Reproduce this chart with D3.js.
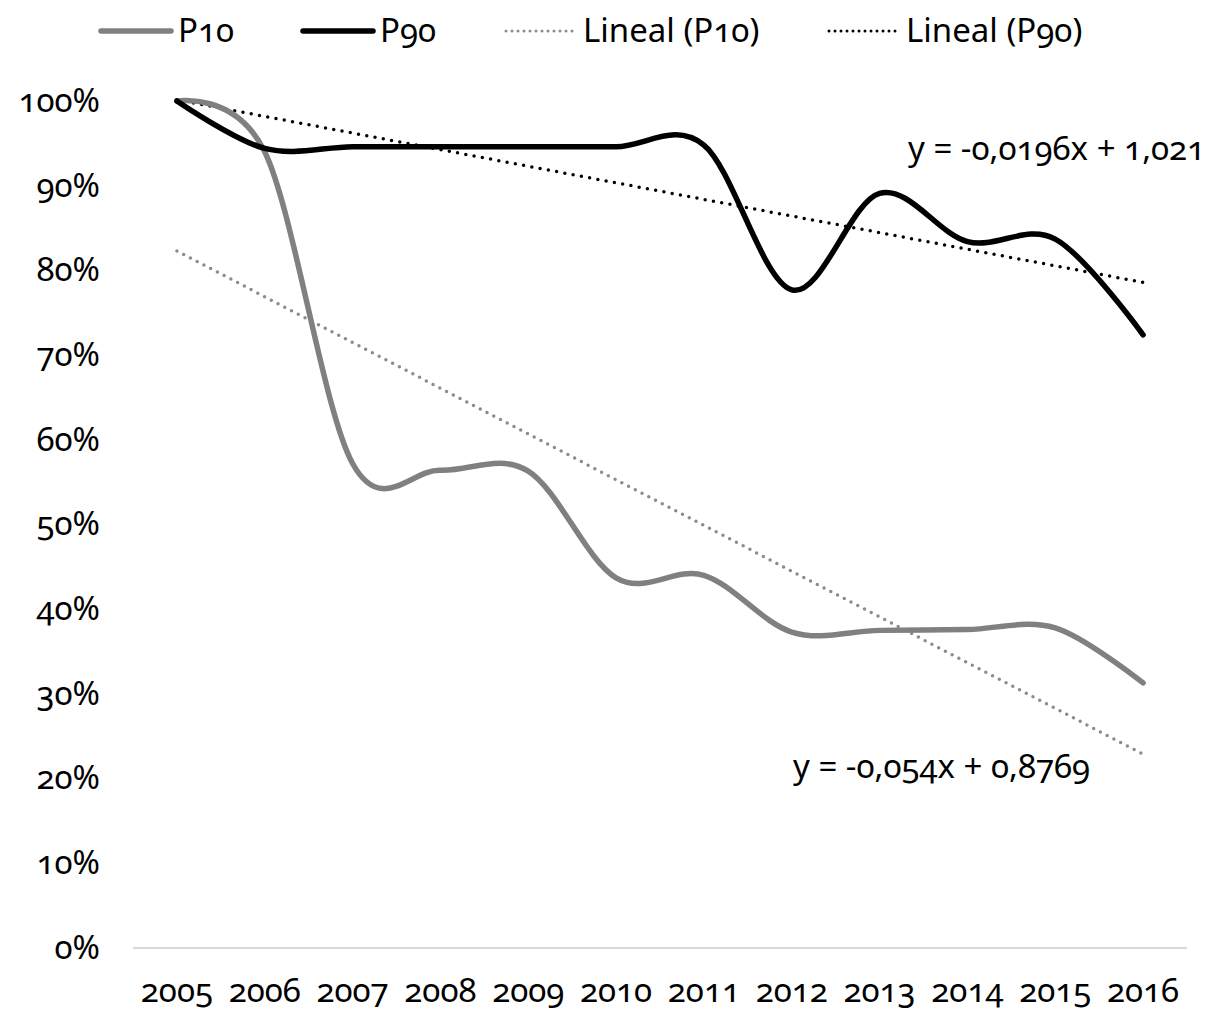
<!DOCTYPE html>
<html>
<head>
<meta charset="utf-8">
<script src="https://cdn.jsdelivr.net/npm/d3@7"></script>
<style>
  body { margin: 0; background: #fff; }
  svg text { font-family: "Noto Sans", "Open Sans", sans-serif; font-variant-numeric: oldstyle-nums; font-feature-settings: "onum"; fill: #000; }
</style>
</head>
<body>
<div id="chart"></div>
<script>
// ---------- data ----------
var years = ["2005","2006","2007","2008","2009","2010","2011","2012","2013","2014","2015","2016"];
var p10 = [1.00, 0.94, 0.572, 0.564, 0.563, 0.437, 0.44, 0.373, 0.375, 0.376, 0.378, 0.313];
var p90 = [1.00, 0.944, 0.946, 0.946, 0.946, 0.946, 0.948, 0.777, 0.891, 0.834, 0.837, 0.724];
var yTicks = [0, 0.1, 0.2, 0.3, 0.4, 0.5, 0.6, 0.7, 0.8, 0.9, 1.0];
// linear trend coefficients (x = 1..12)
var trendP10 = [-0.054, 0.8769];
var trendP90 = [-0.0196, 1.021];
var eqLabels = ["y = -0,054x + 0,8769", "y = -0,0196x + 1,021"];
var legendNames = ["P10", "P90", "Lineal (P10)", "Lineal (P90)"];

var width = 1212, height = 1014;
var gray = "#808080", grayDot = "#8c8c8c";
var fs = "33px";

var svg = d3.select("#chart").append("svg")
    .attr("width", width)
    .attr("height", height);

var x = d3.scaleBand().domain(years).range([133, 1187]);
var xc = function(i) { return x(years[i]) + x.bandwidth() / 2; };
var y = d3.scaleLinear().domain([0, 1]).range([948, 101]);

// baseline
svg.append("line")
    .attr("x1", 133).attr("x2", 1187)
    .attr("y1", y(0)).attr("y2", y(0))
    .style("stroke", "#d9d9d9")
    .style("stroke-width", 2);

// y labels
svg.selectAll(".ylab")
    .data(yTicks)
    .enter()
    .append("text")
    .attr("class", "ylab")
    .attr("x", 100)
    .attr("y", function(d){ return y(d); })
    .attr("dy", "0.33em")
    .style("text-anchor", "end")
    .style("font-size", fs)
    .text(function(d){ return Math.round(d * 100) + "%"; });

// x labels
svg.selectAll(".xlab")
    .data(years)
    .enter()
    .append("text")
    .attr("class", "xlab")
    .attr("x", function(d, i){ return xc(i); })
    .attr("y", 1002)
    .style("text-anchor", "middle")
    .style("font-size", fs)
    .text(function(d){ return d; });

// trend lines
function trendPts(c) {
    return [0, years.length - 1].map(function(i){
        return [xc(i), y(c[0] * (i + 1) + c[1])];
    });
}
var straight = d3.line();

svg.append("path")
    .attr("d", straight(trendPts(trendP10)))
    .style("fill", "none")
    .style("stroke", grayDot)
    .style("stroke-width", 3.5)
    .style("stroke-linecap", "round")
    .style("stroke-dasharray", "0 7.6");

svg.append("path")
    .attr("d", straight(trendPts(trendP90)))
    .style("fill", "none")
    .style("stroke", "#000")
    .style("stroke-width", 3.5)
    .style("stroke-linecap", "round")
    .style("stroke-dasharray", "0 8.4");

// smoothed series
var smooth = d3.line()
    .x(function(d, i){ return xc(i); })
    .y(function(d){ return y(d); })
    .curve(d3.curveCardinal.tension(0));

svg.append("path")
    .datum(p10)
    .attr("d", smooth)
    .style("fill", "none")
    .style("stroke", gray)
    .style("stroke-width", 5.5)
    .style("stroke-linecap", "round");

svg.append("path")
    .datum(p90)
    .attr("d", smooth)
    .style("fill", "none")
    .style("stroke", "#000")
    .style("stroke-width", 5.5)
    .style("stroke-linecap", "round");

// equation labels
svg.append("text")
    .attr("x", 793).attr("y", 778)
    .style("font-size", fs)
    .text(eqLabels[0]);
svg.append("text")
    .attr("x", 908).attr("y", 160)
    .style("font-size", fs)
    .text(eqLabels[1]);

// legend
var legendX = [101, 303, 506, 829];
var legendStyle = [
    {c: gray, w: 5.5, dash: null},
    {c: "#000", w: 5.5, dash: null},
    {c: grayDot, w: 3, dash: "0 6"},
    {c: "#000", w: 3, dash: "0 6"}
];
var lg = svg.selectAll(".leg")
    .data(legendNames)
    .enter()
    .append("g")
    .attr("class", "leg")
    .attr("transform", function(d, i){ return "translate(" + legendX[i] + ",31)"; });

lg.append("line")
    .attr("x1", 0).attr("x2", 70)
    .attr("y1", 0).attr("y2", 0)
    .style("stroke", function(d, i){ return legendStyle[i].c; })
    .style("stroke-width", function(d, i){ return legendStyle[i].w; })
    .style("stroke-linecap", "round")
    .style("stroke-dasharray", function(d, i){ return legendStyle[i].dash; });

lg.append("text")
    .attr("x", 77)
    .attr("y", 11)
    .style("font-size", fs)
    .text(function(d){ return d; });
</script>
</body>
</html>
